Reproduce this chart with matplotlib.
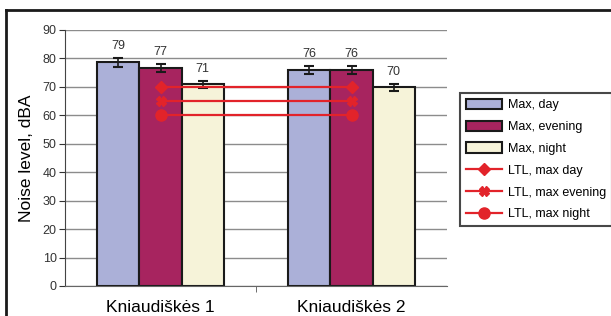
import matplotlib
matplotlib.use('Agg')
import matplotlib.pyplot as plt
from matplotlib.lines import Line2D
import numpy as np

plt.rcParams['font.family'] = ['Liberation Sans', 'DejaVu Sans']

sites = ['Kniaudiškės 1', 'Kniaudiškės 2']
max_day = [78.6, 75.9]
max_evening = [76.8, 75.9]
max_night = [70.9, 69.8]
err_day = [1.7, 1.4]
err_evening = [1.4, 1.5]
err_night = [1.3, 1.3]
ltl_day = [70, 70]
ltl_evening = [65, 65]
ltl_night = [60, 60]

fig = plt.figure(figsize=(6.11, 3.16), dpi=100)
ax = fig.add_axes([65 / 611, 1 - 286 / 316, 382 / 611, 256 / 316])

x = np.arange(len(sites))
width = 0.22
series = [
    (max_day, err_day, '#abb0d8', 'Max, day'),
    (max_evening, err_evening, '#a7245f', 'Max, evening'),
    (max_night, err_night, '#f6f3d9', 'Max, night'),
]
handles = []
for i, (vals, errs, color, label) in enumerate(series):
    pos = x + (i - 1) * width
    b = ax.bar(pos, vals, width, color=color, edgecolor='#1a1a1a', linewidth=1.5,
               label=label, zorder=2)
    handles.append(b)
    ax.errorbar(pos, vals, yerr=errs, fmt='none', ecolor='#1a1a1a',
                elinewidth=1.2, capsize=3.5, capthick=1.5, zorder=3)
    for p, v, e in zip(pos, vals, errs):
        ax.text(p, v + e + 2, f'{round(v)}', ha='center', va='bottom',
                fontsize=9, color='#333333')

red = '#e2232a'
for vals, m, ms, label in [(ltl_day, 'D', 6, 'LTL, max day'),
                           (ltl_evening, 'X', 7, 'LTL, max evening'),
                           (ltl_night, 'o', 8, 'LTL, max night')]:
    ln, = ax.plot(x, vals, color=red, lw=1.6, marker=m, ms=ms, label=label, zorder=4)
    handles.append(ln)

ax.set_xlim(-0.5, 1.5)
ax.set_ylim(0, 90)
ax.set_yticks(range(0, 91, 10))
ax.set_xticks(x)
ax.set_xticklabels(sites, fontsize=12.5)
ax.set_xticks([0.5], minor=True)
ax.tick_params(axis='x', which='major', length=0, pad=10)
ax.tick_params(axis='x', which='minor', length=4, color='#555555')
ax.tick_params(axis='y', length=4, pad=2, labelsize=9, color='#333333', labelcolor='#333333')
ax.yaxis.grid(True, color='#8c8c8c', linewidth=1)
ax.set_axisbelow(True)
for s in ['top', 'right']:
    ax.spines[s].set_visible(False)
ax.spines['left'].set_color('#444444')
ax.spines['bottom'].set_color('#666666')
ax.set_ylabel('Noise level, dBA', fontsize=12.5, labelpad=6)

leg = ax.legend(handles=handles, loc='upper left',
                bbox_to_anchor=(460 / 611, 1 - 93 / 316),
                bbox_transform=fig.transFigure, fontsize=9, frameon=True,
                fancybox=False, edgecolor='#1a1a1a', handlelength=2.9,
                handleheight=0.9, labelspacing=0.75, borderpad=0.45,
                handletextpad=0.5, borderaxespad=0)
leg.get_frame().set_linewidth(1.5)

# outer frame (top and left edges only, rest is cropped)
fig.add_artist(Line2D([6 / 611, 1.0], [1 - 10 / 316] * 2, transform=fig.transFigure,
                      color='#1a1a1a', lw=2))
fig.add_artist(Line2D([6 / 611] * 2, [0, 1 - 10 / 316], transform=fig.transFigure,
                      color='#1a1a1a', lw=2))

fig.savefig('out.png', dpi=100)
